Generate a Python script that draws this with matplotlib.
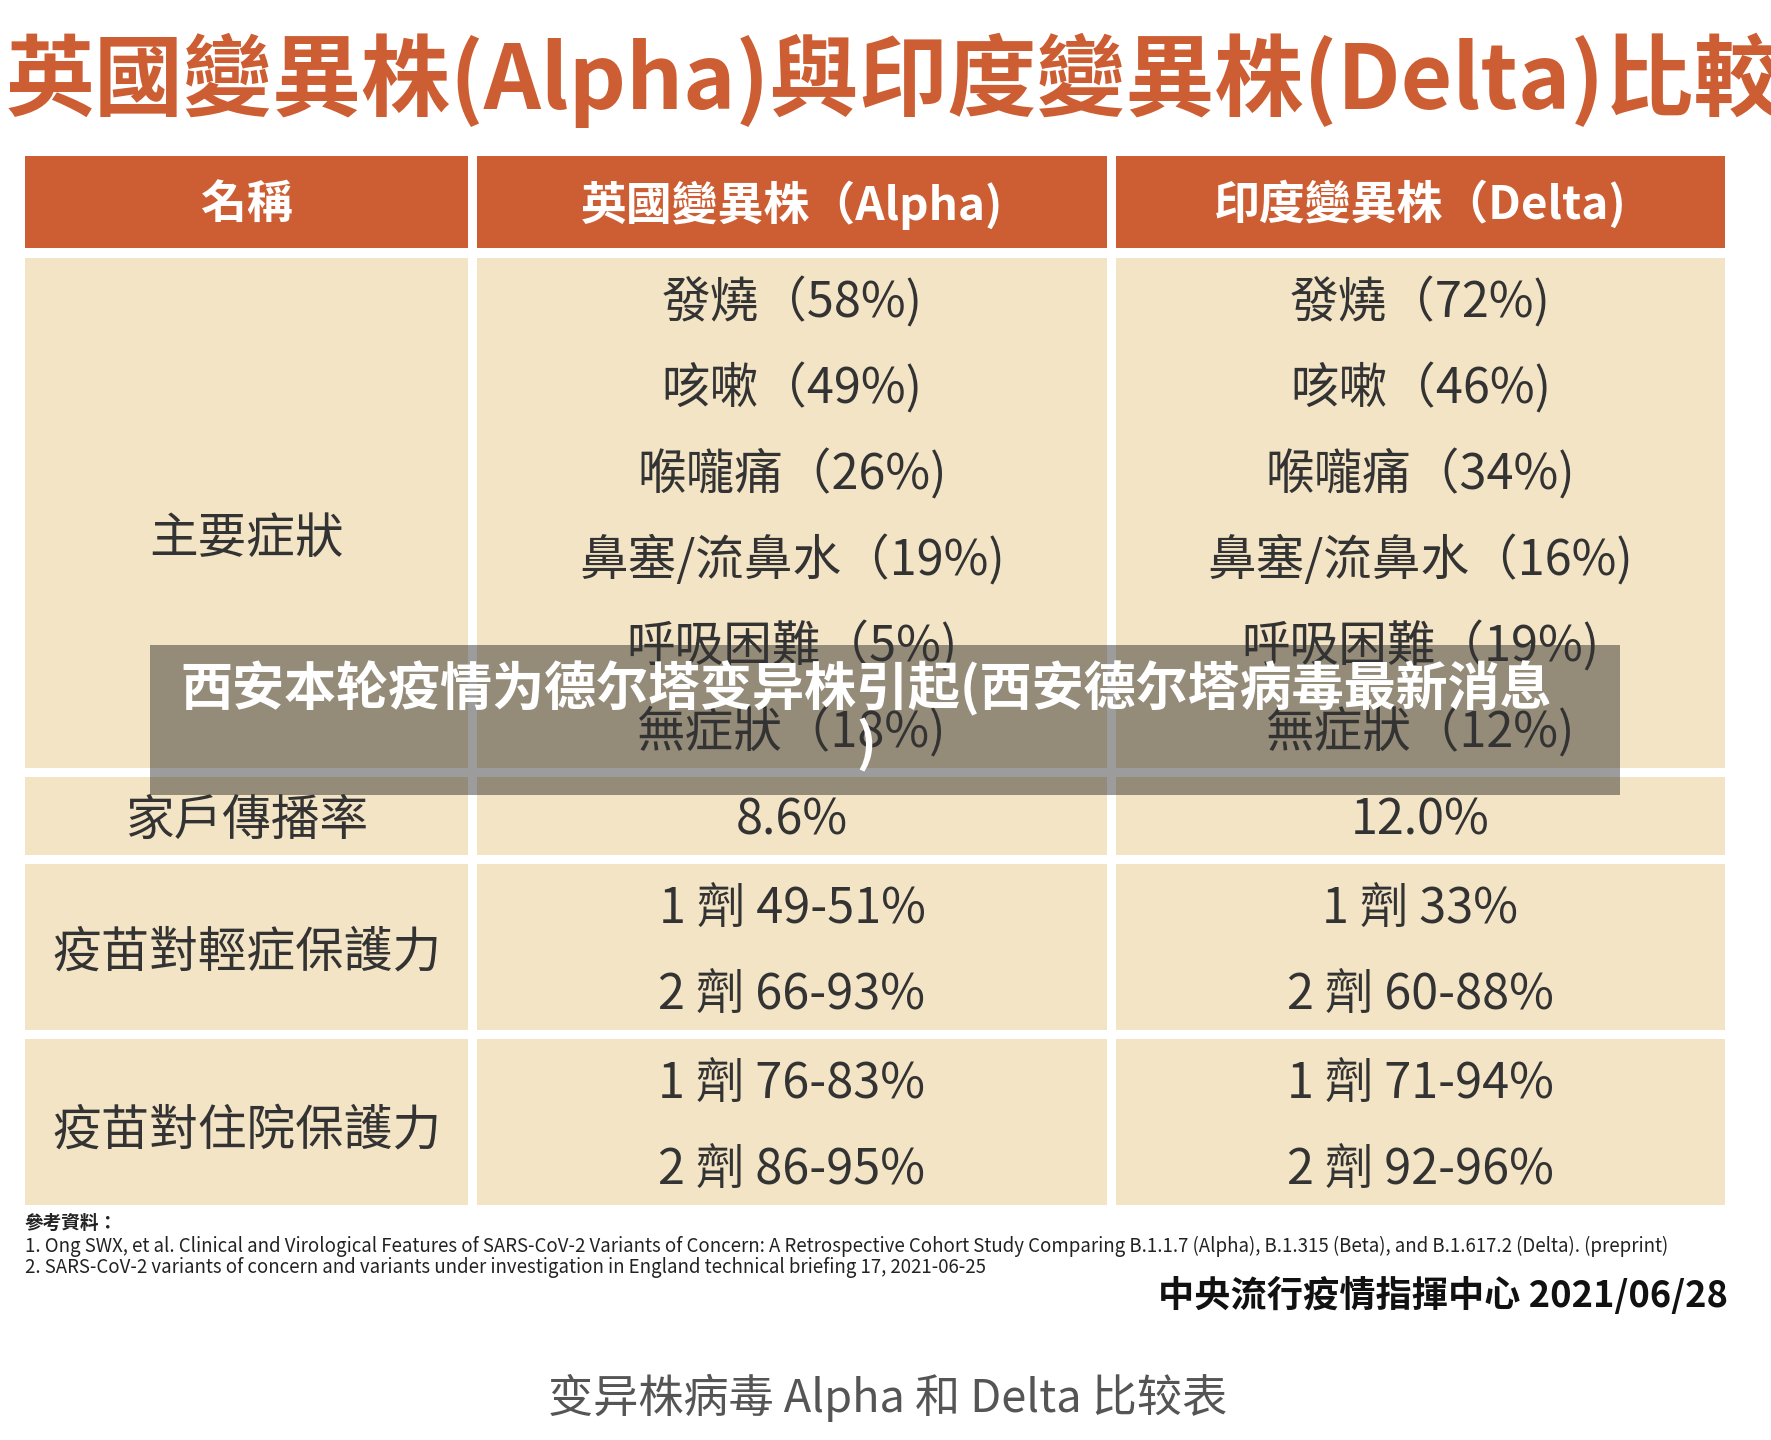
import matplotlib
matplotlib.use("Agg")
import matplotlib.pyplot as plt
from matplotlib.patches import Rectangle

# ---------------- data ----------------
title = "英國變異株(Alpha)與印度變異株(Delta)比較"
headers = ["名稱", "英國變異株（Alpha)", "印度變異株（Delta)"]
row_labels = ["主要症狀", "家戶傳播率", "疫苗對輕症保護力", "疫苗對住院保護力"]
symptoms = ["發燒", "咳嗽", "喉嚨痛", "鼻塞/流鼻水", "呼吸困難", "無症狀"]
alpha_symptom_pct = [58, 49, 26, 19, 5, 18]
delta_symptom_pct = [72, 46, 34, 16, 19, 12]
alpha_household = 8.6
delta_household = 12.0
doses = ["1 劑", "2 劑"]
alpha_mild = ["49-51%", "66-93%"]
delta_mild = ["33%", "60-88%"]
alpha_hosp = ["76-83%", "86-95%"]
delta_hosp = ["71-94%", "92-96%"]
references = [
    "參考資料：",
    "1. Ong SWX, et al. Clinical and Virological Features of SARS-CoV-2 Variants of Concern: A Retrospective Cohort Study Comparing B.1.1.7 (Alpha), B.1.315 (Beta), and B.1.617.2 (Delta). (preprint)",
    "2. SARS-CoV-2 variants of concern and variants under investigation in England technical briefing 17, 2021-06-25",
]
source = "中央流行疫情指揮中心 2021/06/28"
caption = "变异株病毒 Alpha 和 Delta 比较表"
banner = "西安本轮疫情为德尔塔变异株引起(西安德尔塔病毒最新消息\n)"

# ---------------- style / layout ----------------
W, H = 1771, 1440
ORANGE = "#CD5E33"
BEIGE = "#F2E4C5"
TXT = "#333333"
TC = ["Noto Sans CJK TC", "DejaVu Sans"]
SC = ["Noto Sans CJK SC", "DejaVu Sans"]
plt.rcParams["font.family"] = TC

col_x = [(25, 468), (477, 1107), (1116, 1725)]
header_y = (156, 248)
row_y = [(258, 768), (777, 855), (864, 1030), (1039, 1205)]
label_dy = [26, 5, 6, 9]
text_dy = 5
line_step = 86
body_fs = 35
body_w = "light"

fig = plt.figure(figsize=(W / 100, H / 100), dpi=100)
fig.patch.set_facecolor("white")
ax = fig.add_axes([0, 0, 1, 1])
ax.set_xlim(0, W)
ax.set_ylim(H, 0)
ax.axis("off")

renderer = fig.canvas.get_renderer()


def fit(t, target_w):
    w = t.get_window_extent(renderer).width
    t.set_fontsize(t.get_fontsize() * target_w / w)


def cx(i):
    return (col_x[i][0] + col_x[i][1]) / 2


def body(x, y, s):
    ax.text(x, y + text_dy, s, color=TXT, fontsize=body_fs, fontweight=body_w,
            ha="center", va="center")


# title
tt = ax.text(6, 80, title, color=ORANGE, fontsize=60, fontweight="bold",
             ha="left", va="center", family=TC)
fit(tt, 1778)

# header
for i, h in enumerate(headers):
    ax.add_patch(Rectangle((col_x[i][0], header_y[0]), col_x[i][1] - col_x[i][0],
                           header_y[1] - header_y[0], color=ORANGE, lw=0))
    ax.text(cx(i), (header_y[0] + header_y[1]) / 2 + 3, h, color="white", fontsize=33,
            fontweight="bold", ha="center", va="center")

# body backgrounds
for (y0, y1) in row_y:
    for (x0, x1) in col_x:
        ax.add_patch(Rectangle((x0, y0), x1 - x0, y1 - y0, color=BEIGE, lw=0))

# row labels
for r, lab in enumerate(row_labels):
    yc = (row_y[r][0] + row_y[r][1]) / 2 + label_dy[r]
    ax.text(cx(0), yc, lab, color=TXT, fontsize=body_fs, fontweight=body_w,
            ha="center", va="center")

# symptoms
yc = (row_y[0][0] + row_y[0][1]) / 2
n = len(symptoms)
for k, s in enumerate(symptoms):
    y = yc + (k - (n - 1) / 2) * line_step
    body(cx(1), y, f"{s}（{alpha_symptom_pct[k]}%)")
    body(cx(2), y, f"{s}（{delta_symptom_pct[k]}%)")

# household
yc = (row_y[1][0] + row_y[1][1]) / 2
body(cx(1), yc, f"{alpha_household:.1f}%")
body(cx(2), yc, f"{delta_household:.1f}%")

# vaccine rows
for r, (av, dv) in zip([2, 3], [(alpha_mild, delta_mild), (alpha_hosp, delta_hosp)]):
    yc = (row_y[r][0] + row_y[r][1]) / 2
    for k, d in enumerate(doses):
        y = yc + (k - 0.5) * line_step
        body(cx(1), y, f"{d} {av[k]}")
        body(cx(2), y, f"{d} {dv[k]}")

# references
ref_y = [1223, 1246, 1267]
rt = []
for k, line in enumerate(references):
    t = ax.text(25, ref_y[k], line, color="#222222", fontsize=12, ha="left", va="center",
                fontweight="bold" if k == 0 else "medium")
    rt.append(t)
fit(rt[1], 1644)
rt[2].set_fontsize(rt[1].get_fontsize())
rt[0].set_fontsize(rt[1].get_fontsize())

# source
st = ax.text(1728, 1296, source, color="#111111", fontsize=26, fontweight="bold",
             ha="right", va="center")
fit(st, 570)

# caption
ct = ax.text(888, 1398, caption, color="#555555", fontsize=30, fontweight="light",
             ha="center", va="center", family=SC)
fit(ct, 680)

# banner overlay
ax.add_patch(Rectangle((150, 645), 1470, 150, color="black", alpha=0.39, lw=0))
bt = ax.text(866, 717, banner, color="white", fontsize=38, fontweight="heavy", ha="center",
             va="center", family=SC, linespacing=1.05, multialignment="center")
line1 = ax.text(0, 0, banner.split("\n")[0], fontsize=38, fontweight="heavy", family=SC)
w1 = line1.get_window_extent(renderer).width
line1.remove()
bt.set_fontsize(38 * 1372 / w1)

fig.savefig("out.png", dpi=100, facecolor="white")
